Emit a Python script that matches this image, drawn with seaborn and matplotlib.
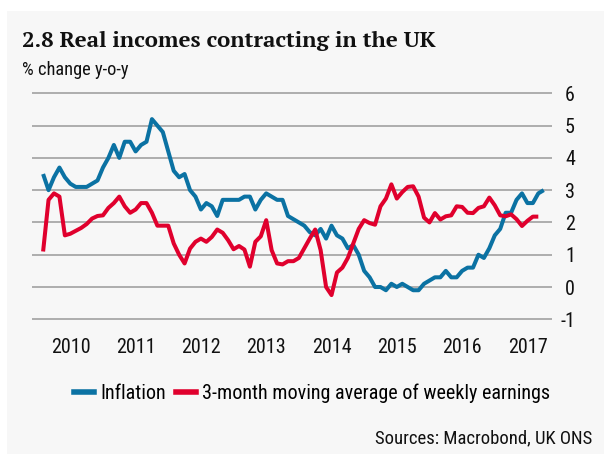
import numpy as np
import pandas as pd
import matplotlib
matplotlib.use("Agg")
import matplotlib.pyplot as plt
from matplotlib import font_manager
from matplotlib.lines import Line2D
from matplotlib.patches import Rectangle
import seaborn as sns

# ---------------- data (monthly, Jan 2010 onward) ----------------
start_year = 2010
inflation = [
    3.5, 3.0, 3.4, 3.7, 3.4, 3.2, 3.1, 3.1, 3.1, 3.2, 3.3, 3.7,   # 2010
    4.0, 4.4, 4.0, 4.5, 4.5, 4.2, 4.4, 4.5, 5.2, 5.0, 4.8, 4.2,   # 2011
    3.6, 3.4, 3.5, 3.0, 2.8, 2.4, 2.6, 2.5, 2.2, 2.7, 2.7, 2.7,   # 2012
    2.7, 2.8, 2.8, 2.4, 2.7, 2.9, 2.8, 2.7, 2.7, 2.2, 2.1, 2.0,   # 2013
    1.9, 1.7, 1.6, 1.8, 1.5, 1.9, 1.6, 1.5, 1.2, 1.3, 1.0, 0.5,   # 2014
    0.3, 0.0, 0.0, -0.1, 0.1, 0.0, 0.1, 0.0, -0.1, -0.1, 0.1, 0.2,  # 2015
    0.3, 0.3, 0.5, 0.3, 0.3, 0.5, 0.6, 0.6, 1.0, 0.9, 1.2, 1.6,   # 2016
    1.8, 2.3, 2.3, 2.7, 2.9, 2.6, 2.6, 2.9, 3.0,                  # 2017
]
earnings = [
    1.1, 2.7, 2.9, 2.8, 1.6, 1.65, 1.74, 1.83, 1.95, 2.12, 2.2, 2.22,   # 2010
    2.45, 2.6, 2.8, 2.5, 2.3, 2.4, 2.6, 2.6, 2.3, 1.9, 1.9, 1.9,        # 2011
    1.35, 1.0, 0.73, 1.19, 1.4, 1.5, 1.4, 1.55, 1.78, 1.68, 1.45, 1.17, # 2012
    1.27, 1.16, 0.63, 1.4, 1.57, 2.07, 1.14, 0.73, 0.7, 0.8, 0.8, 0.9,  # 2013
    1.2, 1.5, 1.78, 1.14, 0.0, -0.25, 0.45, 0.6, 0.9, 1.35, 1.8, 2.07,  # 2014
    1.98, 1.93, 2.5, 2.74, 3.18, 2.74, 2.94, 3.1, 3.12, 2.8, 2.15, 2.0, # 2015
    2.29, 2.09, 2.19, 2.22, 2.5, 2.48, 2.3, 2.29, 2.45, 2.5, 2.77, 2.53,# 2016
    2.22, 2.19, 2.25, 2.1, 1.89, 2.05, 2.18, 2.18,                      # 2017
]
year_labels = ["2010", "2011", "2012", "2013", "2014", "2015", "2016", "2017"]
y_ticks = [-1, 0, 1, 2, 3, 4, 5, 6]
series_names = ["Inflation", "3-month moving average of weekly earnings"]
colors = ["#0b72a3", "#e0002d"]

title = "2.8 Real incomes contracting in the UK"
subtitle = "% change y-o-y"
source = "Sources: Macrobond, UK ONS"

# ---------------- long table ----------------
frames = []
for name, vals in zip(series_names, [inflation, earnings]):
    t = start_year + np.arange(len(vals)) / 12.0
    frames.append(pd.DataFrame({"t": t, "value": vals, "series": name}))
df = pd.concat(frames, ignore_index=True)

# ---------------- fonts ----------------
ents = font_manager.fontManager.ttflist
avail = {f.name for f in ents}
def pick(options):
    for o in options:
        if o in avail:
            return o
    return "DejaVu Sans"
def pick_bold(options):
    for o in options:
        if any(f.name == o and (f.weight in ("bold", "semibold", "demibold") or
                                (isinstance(f.weight, int) and f.weight >= 600)) for f in ents):
            return o
    return "DejaVu Serif"
sans = pick(["Roboto Condensed", "Archivo Narrow", "PT Sans Narrow", "Liberation Sans"])
serif = pick_bold(["Noto Serif", "PT Serif", "Merriweather", "DejaVu Serif"])

W, H = 604, 454
fig = plt.figure(figsize=(W / 100, H / 100), dpi=100)
fig.patch.set_facecolor("white")
panel = "#f7f7f7"
fig.add_artist(Rectangle((7.5 / W, 0), 1, (H - 11) / H, transform=fig.transFigure,
                         facecolor=panel, edgecolor="none", zorder=-10))

ax_left, ax_right = 32, 552
ax_top, ax_bot = 91.7, 320.9
ax = fig.add_axes([ax_left / W, (H - ax_bot) / H, (ax_right - ax_left) / W, (ax_bot - ax_top) / H])
ax.set_facecolor("none")

sns.lineplot(data=df, x="t", y="value", hue="series", palette=dict(zip(series_names, colors)),
             linewidth=2.9, legend=False, ax=ax, sort=False)
for ln in ax.lines:
    ln.set_solid_joinstyle("round")
    ln.set_solid_capstyle("butt")

ax.set_xlim(2009.830, 2017.793)
ax.set_ylim(-1.05, 6.05)
for s in ax.spines.values():
    s.set_visible(False)
ax.set_xlabel("")
ax.set_ylabel("")

ax.yaxis.tick_right()
ax.set_yticks(y_ticks)
ax.set_yticklabels([str(v) for v in y_ticks], fontsize=14.5, family=sans, color="#111111")
for lab in ax.get_yticklabels():
    lab.set_horizontalalignment("right")
ax.tick_params(axis="y", length=0, pad=16.6)
ax.yaxis.grid(True, color="#a8a8a8", linewidth=1.3)
ax.set_axisbelow(True)

ax.set_xticks([start_year + i + 0.42 for i in range(len(year_labels))])
ax.set_xticklabels(year_labels, fontsize=14.5, family=sans, color="#111111")
ax.tick_params(axis="x", length=0, pad=12)
ax.xaxis.grid(False)

handles = [Line2D([0], [0], color=c, lw=4) for c in colors]
fig.legend(handles, series_names, loc="center", bbox_to_anchor=(312 / W, 1 - 393 / H),
           ncol=2, frameon=False, prop={"family": sans, "size": 14.5},
           handlelength=1.0, handletextpad=0.3, columnspacing=0.5, borderaxespad=0, borderpad=0)

fig.text(21.7 / W, 1 - 46.7 / H, title, family=serif, fontsize=16, fontweight="bold",
         ha="left", va="baseline", color="#111111")
fig.text(21.7 / W, 1 - 75 / H, subtitle, family=sans, fontsize=13.2, ha="left", va="baseline",
         color="#111111")
fig.text(592 / W, 1 - 443 / H, source, family=sans, fontsize=13.5, ha="right", va="baseline",
         color="#111111")

fig.savefig("out.png", dpi=100, facecolor="white")
